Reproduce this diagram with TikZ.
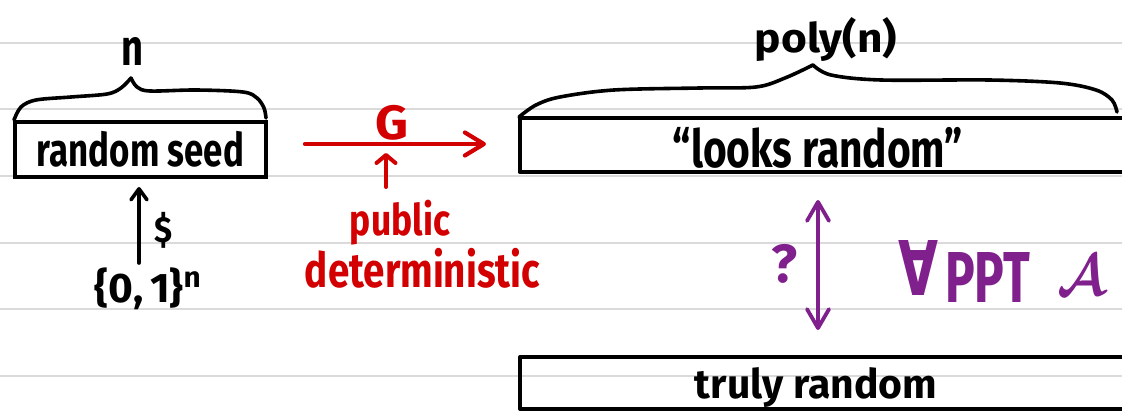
\documentclass[tikz,border=0pt]{standalone}
\usepackage{fontspec}
\setmainfont{Fira Sans}
\newfontfamily\djv{DejaVu Sans}
\usetikzlibrary{arrows.meta}
\definecolor{inkred}{RGB}{210,0,0}
\definecolor{inkpurple}{RGB}{128,32,140}
\definecolor{ruleg}{RGB}{218,218,218}
\newcommand{\fitbox}[3]{\resizebox*{#1pt}{#2pt}{\bfseries #3}}
\begin{document}
\begin{tikzpicture}[x=1pt,y=-1pt,
  ruleline/.style={draw=ruleg, line width=2pt},
  boxline/.style={line width=4pt, line join=round, line cap=round},
  bracel/.style={line width=3.6pt, line cap=round, line join=round},
  txt/.style={inner sep=0pt, outer sep=0pt},
  openbox/.style={inner sep=0pt, outer sep=0pt, draw=none},
  seedbox/.style={draw, line width=4pt, inner sep=0pt, outer sep=0pt,
                  minimum width=251pt, minimum height=55pt},
  blkarrow/.style={line width=3.6pt, line cap=round, -{Straight Barb[length=11pt,width=16pt,line cap=round,line join=round]}},
  redarrow/.style={draw=inkred, line width=4.2pt, line cap=round, -{Straight Barb[length=19pt,width=23pt,line cap=round,line join=round]}},
  redsmall/.style={draw=inkred, line width=4pt, line cap=round, -{Straight Barb[length=8pt,width=19pt,line cap=round,line join=round]}},
  purparrow/.style={draw=inkpurple, line width=3.8pt, line cap=round, {Straight Barb[length=19pt,width=22pt,line cap=round,line join=round]}-{Straight Barb[length=19pt,width=22pt,line cap=round,line join=round]}}
]
\useasboundingbox (0,0) rectangle (1122,412);
\fill[white] (0,0) rectangle (1122,412);
% notebook lines
\foreach \yy in {42.7,109.3,175.9,242.5,309.1,375.7}
  \draw[ruleline] (0,\yy) -- (1122,\yy);

% boxes
\node[seedbox] (seed) at (140.5,149.5) {\fitbox{207}{36}{random seed}};
\node[openbox, minimum width=604.5pt, minimum height=54pt] (lbox) at (821.75,145) {};
\node[openbox, minimum width=604pt, minimum height=52pt] (tbox) at (822,383) {};
\draw[boxline] (lbox.north east) -| (lbox.south west) -- (lbox.south east);
\draw[boxline] (tbox.north east) -| (tbox.south west) -- (tbox.south east);

% texts
\node[txt] (looks) at (818,147.5) {\fitbox{290}{41}{“looks random”}};
\node[txt] (truly) at (816,388) {\fitbox{242}{40}{truly random}};
\node[txt] (n) at (132,51) {\fitbox{22}{28}{n}};
\node[txt] (poly) at (826,40) {\fitbox{142}{44}{poly(n)}};
\node[txt, text=inkred] (G) at (391.5,122.5) {\fitbox{33}{35}{G}};
\node[txt, text=inkred] (pub) at (400,222.5) {\fitbox{100}{45}{public}};
\node[txt, text=inkred] (det) at (422.5,268) {\fitbox{235}{40}{deterministic}};
\node[txt] (dollar) at (164,230) {\fitbox{18}{36}{\$}};
\node[txt] (zeroone) at (149,289) {\fitbox{108}{42}{\{0,\,1\}\textsuperscript{n}}};
\node[txt, text=inkpurple] (q) at (784,263.5) {\fitbox{26}{39}{?}};
\node[txt, text=inkpurple, anchor=north west] (adv) at (898,240)
  {\fitbox{40}{55}{\djv ∀}\hspace{7pt}\raisebox{-7pt}{\fitbox{85}{50}{PPT}}\hspace{27pt}\fitbox{48}{40}{\boldmath$\mathcal{A}$}};

% braces
\draw[bracel] plot[smooth, tension=0.55] coordinates {(14,120) (21,107) (36,100) (71,97) (107,94) (121,88) (131,78)};
\draw[bracel] plot[smooth, tension=0.55] coordinates {(131,78) (137,87) (150,91) (196,90) (243,92) (257,98) (264,108) (266,118)};
\draw[bracel] plot[smooth, tension=0.55] coordinates {(519,117) (536,105) (560,97) (614,90) (700,88) (756,87) (785,78) (813,65)};
\draw[bracel] plot[smooth, tension=0.55] coordinates {(813,65) (831,75) (881,80) (989,80) (1060,83) (1096,90) (1112,100) (1117,112)};

% connectors
\draw[blkarrow] ([xshift=-10pt,yshift=5pt]zeroone.north) -- ([xshift=-1.5pt,yshift=-10pt]seed.south);
\draw[redarrow] ([xshift=39pt,yshift=5.5pt]seed.east) -- ([xshift=-33.5pt,yshift=1pt]lbox.west);
\draw[redsmall] ([xshift=-14pt,yshift=13pt]pub.north) -- ([xshift=-5.5pt,yshift=-13pt]G.south);
\draw[purparrow] ([xshift=-3.75pt,yshift=-28pt]lbox.south) -- ([xshift=-4pt,yshift=27pt]tbox.north);
\end{tikzpicture}
\end{document}
